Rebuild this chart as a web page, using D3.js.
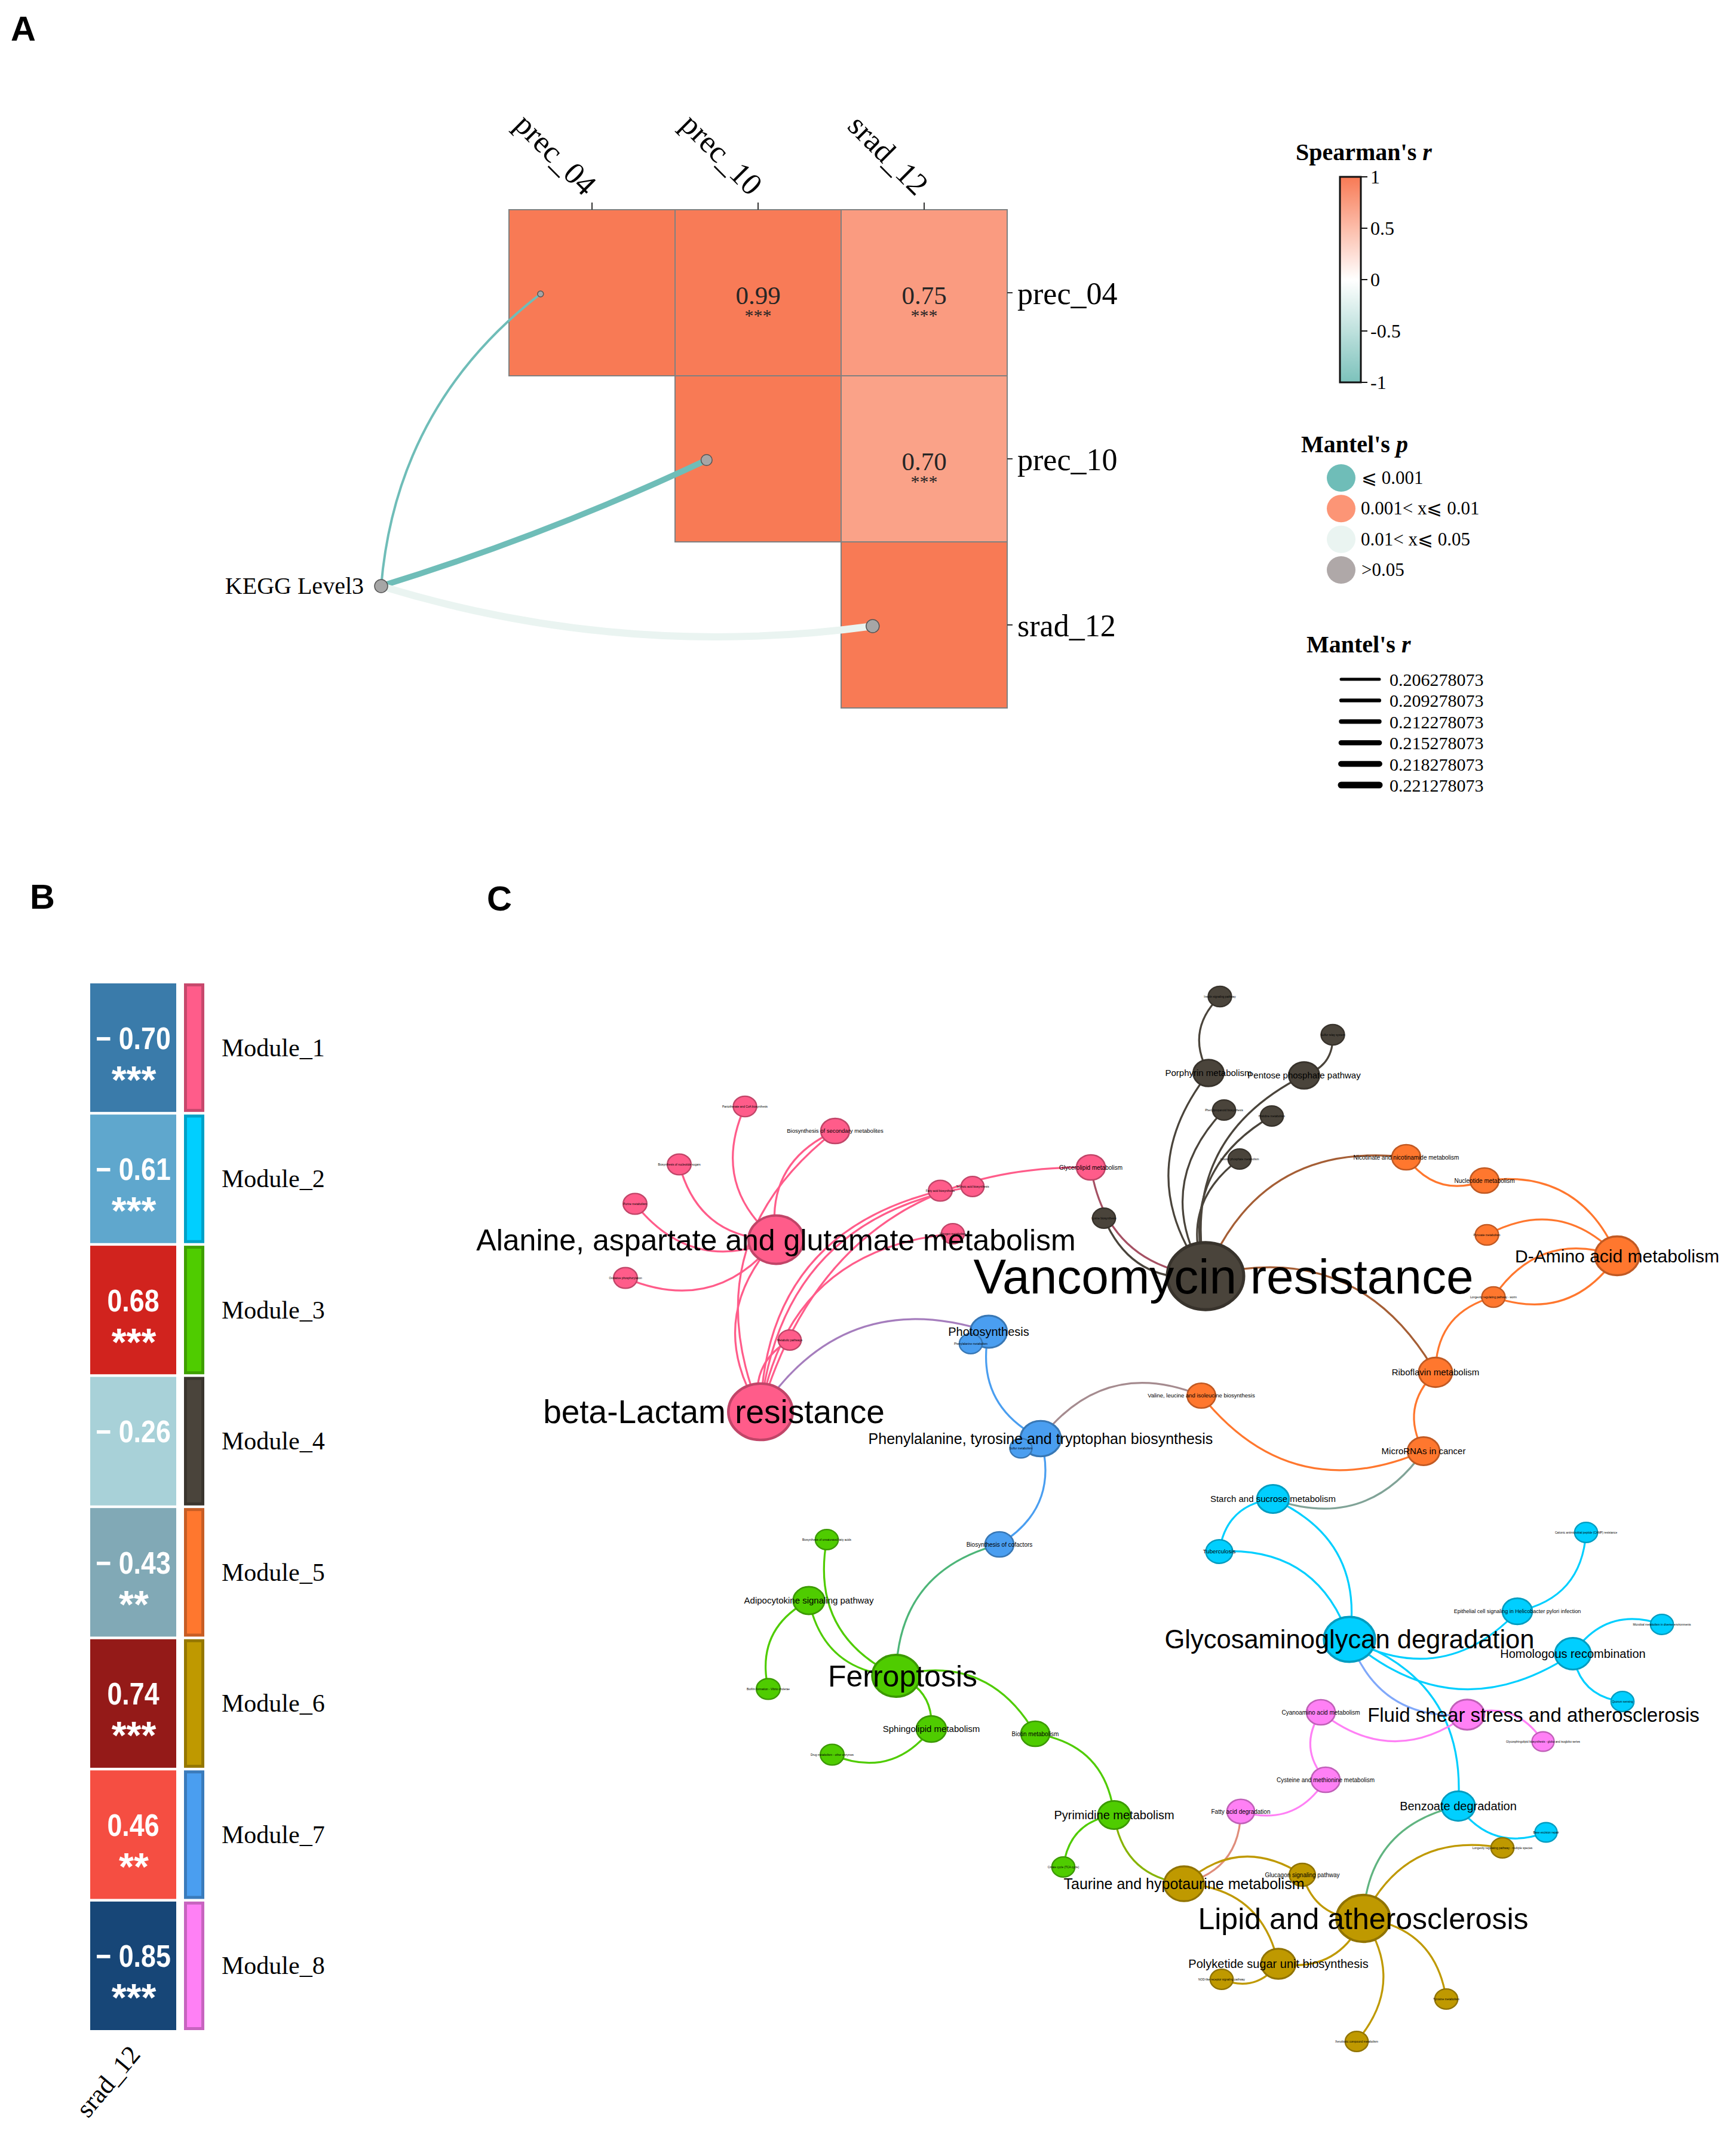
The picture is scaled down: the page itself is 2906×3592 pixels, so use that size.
<!DOCTYPE html>
<html>
<head>
<meta charset="utf-8">
<script src="https://cdn.jsdelivr.net/npm/d3@7"></script>
<style>
  body { margin: 0; background: #fff; }
</style>
</head>
<body>
<svg id="fig"></svg>
<script>
// ---------- Panel A: environmental correlations + Mantel links ----------
const envVars = ["prec_04", "prec_10", "srad_12"];
const spearman = [
  [1.00, 0.99, 0.75],
  [0.99, 1.00, 0.70],
  [0.75, 0.70, 1.00]
];
const spearmanStars = [
  ["", "***", "***"],
  ["", "", "***"],
  ["", "", ""]
];
const mantelSpec = "KEGG Level3";
const mantelR = [0.206278073, 0.217, 0.221278073];
const mantelP = [0.0004, 0.0006, 0.03];
const pBreaks = [0.001, 0.01, 0.05];
const pLabels = ["\u2A7D 0.001", "0.001< x\u2A7D 0.01", "0.01< x\u2A7D 0.05", ">0.05"];
const rBreaks = [0.206278073, 0.209278073, 0.212278073, 0.215278073, 0.218278073, 0.221278073];
const rBreakLabels = ["0.206278073", "0.209278073", "0.212278073", "0.215278073", "0.218278073", "0.221278073"];
const colorbarTicks = [1, 0.5, 0, -0.5, -1];
const colorbarTickLabels = ["1", "0.5", "0", "-0.5", "-1"];

// ---------- Panel B: module ~ srad_12 ----------
const modules = ["Module_1", "Module_2", "Module_3", "Module_4", "Module_5", "Module_6", "Module_7", "Module_8"];
const moduleR = [-0.70, -0.61, 0.68, -0.26, -0.43, 0.74, 0.46, -0.85];
const moduleStars = ["***", "***", "***", "", "**", "***", "**", "***"];
const bVar = "srad_12";

// ---------- Panel C: pathway network (exported layout units) ----------
// id, label, module, layoutX, layoutY, weight
const nodeTable = [
  ["alan", "Alanine, aspartate and glutamate metabolism", 1, 599, 475, 7.2],
  ["beta", "beta-Lactam resistance", 1, 573, 763, 8.4],
  ["pant", "Pantothenate and CoA biosynthesis", 1, 547, 252, 3.05],
  ["bsec", "Biosynthesis of secondary metabolites", 1, 698, 293, 3.75],
  ["nucs", "Biosynthesis of nucleotide sugars", 1, 437, 349, 3.1],
  ["puri", "Purine metabolism", 1, 363, 415, 3.1],
  ["oxph", "Oxidative phosphorylation", 1, 347, 539, 3.1],
  ["metp", "Metabolic pathways", 1, 622, 643, 3.0],
  ["fab",  "Fatty acid biosynthesis", 1, 874, 393, 3.1],
  ["teic", "Teichoic acid biosynthesis", 1, 928, 386, 3.0],
  ["glyl", "Glycerolipid metabolism", 1, 1126, 354, 3.75],
  ["nitr", "Nitrogen metabolism", 1, 895, 465, 3.0],
  ["vanc", "Vancomycin resistance", 4, 1318, 536, 10],
  ["porp", "Porphyrin metabolism", 4, 1323, 196, 4.0],
  ["pent", "Pentose phosphate pathway", 4, 1483, 200, 4.0],
  ["insu", "Insulin signaling pathway", 4, 1342, 68, 3.05],
  ["srel", "Sulfur relay system", 4, 1531, 132, 3.05],
  ["phpr", "Phenylpropanoid biosynthesis", 4, 1349, 258, 3.0],
  ["hist", "Histidine metabolism", 4, 1429, 268, 3.0],
  ["inos", "Inositol phosphate metabolism", 4, 1375, 340, 3.0],
  ["lysb", "Lysine biosynthesis", 4, 1148, 439, 3.0],
  ["dami", "D-Amino acid metabolism", 5, 2007, 502, 5.8],
  ["nico", "Nicotinate and nicotinamide metabolism", 5, 1654, 337, 3.75],
  ["nucl", "Nucleotide metabolism", 5, 1785, 376, 3.75],
  ["pyru", "Pyruvate metabolism", 5, 1789, 467, 3.05],
  ["lonw", "Longevity regulating pathway - worm", 5, 1800, 571, 3.05],
  ["ribo", "Riboflavin metabolism", 5, 1703, 697, 4.4],
  ["mirn", "MicroRNAs in cancer", 5, 1683, 829, 4.2],
  ["vali", "Valine, leucine and isoleucine biosynthesis", 5, 1311, 736, 3.7],
  ["phot", "Photosynthesis", 7, 955, 629, 4.8],
  ["phem", "Phenylalanine metabolism", 7, 925, 649, 3.0],
  ["ptt",  "Phenylalanine, tyrosine and tryptophan biosynthesis", 7, 1042, 808, 5.3],
  ["sulm", "Sulfur metabolism", 7, 1009, 824, 2.9],
  ["cofa", "Biosynthesis of cofactors", 7, 973, 985, 3.75],
  ["ferr", "Ferroptosis", 3, 800, 1205, 6.25],
  ["adip", "Adipocytokine signaling pathway", 3, 654, 1079, 4.1],
  ["bufa", "Biosynthesis of unsaturated fatty acids", 3, 684, 977, 3.0],
  ["biof", "Biofilm formation - Vibrio cholerae", 3, 586, 1227, 3.1],
  ["sphi", "Sphingolipid metabolism", 3, 859, 1294, 3.9],
  ["drug", "Drug metabolism - other enzymes", 3, 693, 1337, 3.1],
  ["biot", "Biotin metabolism", 3, 1033, 1302, 3.75],
  ["pyri", "Pyrimidine metabolism", 3, 1165, 1438, 4.2],
  ["tca",  "Citrate cycle (TCA cycle)", 3, 1080, 1525, 3.0],
  ["glyc", "Glycosaminoglycan degradation", 2, 1559, 1144, 6.7],
  ["star", "Starch and sucrose metabolism", 2, 1431, 909, 4.2],
  ["tube", "Tuberculosis", 2, 1341, 997, 3.5],
  ["camp", "Cationic antimicrobial peptide (CAMP) resistance", 2, 1955, 965, 3.0],
  ["epit", "Epithelial cell signaling in Helicobacter pylori infection", 2, 1840, 1097, 3.9],
  ["micr", "Microbial metabolism in diverse environments", 2, 2082, 1119, 3.0],
  ["homo", "Homologous recombination", 2, 1933, 1168, 4.7],
  ["quor", "Quorum sensing", 2, 2016, 1248, 3.0],
  ["benz", "Benzoate degradation", 2, 1741, 1423, 4.4],
  ["bexr", "Base excision repair", 2, 1888, 1467, 2.9],
  ["flui", "Fluid shear stress and atherosclerosis", 8, 1756, 1270, 4.5],
  ["cyan", "Cyanoamino acid metabolism", 8, 1511, 1266, 3.75],
  ["gsph", "Glycosphingolipid biosynthesis - globo and isoglobo series", 8, 1883, 1315, 2.9],
  ["cyst", "Cysteine and methionine metabolism", 8, 1519, 1379, 3.75],
  ["fadg", "Fatty acid degradation", 8, 1377, 1432, 3.6],
  ["lipi", "Lipid and atherosclerosis", 6, 1582, 1611, 7.0],
  ["taur", "Taurine and hypotaurine metabolism", 6, 1282, 1553, 5.2],
  ["gluc", "Glucagon signaling pathway", 6, 1480, 1538, 3.4],
  ["poly", "Polyketide sugar unit biosynthesis", 6, 1440, 1687, 4.5],
  ["nod",  "NOD-like receptor signaling pathway", 6, 1345, 1713, 3.0],
  ["lonm", "Longevity regulating pathway - multiple species", 6, 1815, 1493, 3.0],
  ["tyro", "Tyrosine metabolism", 6, 1721, 1746, 3.0],
  ["xeno", "Xenobiotic compound metabolism", 6, 1571, 1817, 3.0]
];

// source -> target (arc bends to the left of the travel direction)
const edgeList = [
  ["alan","pant"],["alan","bsec"],["alan","nucs"],["alan","puri"],["alan","oxph"],
  ["beta","alan"],["beta","bsec"],["beta","fab"],["beta","teic"],["beta","glyl"],
  ["beta","nitr"],["beta","metp"],["vanc","glyl"],["vanc","lysb"],
  ["vanc","porp"],["vanc","phpr"],["vanc","hist"],["vanc","inos"],["vanc","pent"],
  ["porp","insu"],["srel","pent"],["vanc","nico"],["vanc","ribo"],
  ["nucl","nico"],["nucl","dami"],["pyru","dami"],["dami","lonw"],["lonw","dami"],
  ["ribo","lonw"],["mirn","ribo"],["mirn","vali"],["ptt","vali"],["mirn","star"],
  ["ptt","phot"],["beta","phot"],["phot","phem"],["ptt","sulm"],["ptt","cofa"],["ferr","cofa"],
  ["ferr","adip"],["ferr","bufa"],["biof","adip"],["ferr","sphi"],["sphi","drug"],
  ["ferr","biot"],["biot","pyri"],["tca","pyri"],["taur","pyri"],
  ["star","glyc"],["tube","star"],["tube","glyc"],["epit","glyc"],["camp","epit"],
  ["homo","glyc"],["homo","micr"],["quor","homo"],["glyc","benz"],["bexr","benz"],
  ["flui","glyc"],["lipi","benz"],
  ["flui","cyan"],["flui","gsph"],["cyst","cyan"],["cyst","fadg"],["fadg","taur"],
  ["taur","gluc"],["lipi","gluc"],["taur","poly"],["lipi","poly"],["poly","nod"],
  ["lipi","lonm"],["lipi","tyro"],["lipi","xeno"]
];

// =================== drawing ===================
const W = 2906, H = 3592;
const serif = "'Liberation Serif','Times New Roman',serif";
const sans = "'Liberation Sans',Arial,Helvetica,sans-serif";

const svg = d3.select("#fig")
  .attr("width", W).attr("height", H)
  .attr("viewBox", `0 0 ${W} ${H}`);
svg.append("rect").attr("width", W).attr("height", H).attr("fill", "#fff");

// panel tags
const tags = [["A", 18, 68], ["B", 50, 1521], ["C", 815, 1524]];
svg.selectAll("text.tag").data(tags).join("text")
  .attr("class", "tag")
  .attr("x", d => d[1]).attr("y", d => d[2])
  .attr("font-family", sans).attr("font-weight", 900).attr("font-size", 58)
  .text(d => d[0]);

// ---------------- Panel A ----------------
const gA = svg.append("g");
const xA = d3.scaleBand().domain(envVars).range([852, 1686]);
const yA = d3.scaleBand().domain(envVars).range([351, 1185]);
const bw = xA.bandwidth();
const fillR = d3.scaleLinear().domain([-1, 0, 1]).range(["#7CC2BB", "#ffffff", "#F87A55"]);

const cells = [];
envVars.forEach((row, i) => envVars.forEach((col, j) => {
  if (j >= i) cells.push({ row, col, r: spearman[i][j], star: spearmanStars[i][j], diag: i === j });
}));

gA.selectAll("rect.cell").data(cells).join("rect")
  .attr("x", d => xA(d.col)).attr("y", d => yA(d.row))
  .attr("width", bw).attr("height", bw)
  .attr("fill", d => fillR(d.r))
  .attr("stroke", "#808080").attr("stroke-width", 2);

const offDiag = cells.filter(d => !d.diag);
gA.selectAll("text.rval").data(offDiag).join("text")
  .attr("x", d => xA(d.col) + bw / 2).attr("y", d => yA(d.row) + bw / 2 + 19)
  .attr("text-anchor", "middle").attr("font-family", serif).attr("font-size", 43)
  .attr("fill", "#262626")
  .text(d => d3.format(".2f")(d.r));
gA.selectAll("text.rstar").data(offDiag).join("text")
  .attr("x", d => xA(d.col) + bw / 2).attr("y", d => yA(d.row) + bw / 2 + 48)
  .attr("text-anchor", "middle").attr("font-family", serif).attr("font-size", 30)
  .attr("fill", "#262626")
  .text(d => d.star);

// top axis
const y0A = yA.range()[0], x1A = xA.range()[1];
gA.selectAll("line.tt").data(envVars).join("line")
  .attr("x1", d => xA(d) + bw / 2).attr("x2", d => xA(d) + bw / 2)
  .attr("y1", y0A - 12).attr("y2", y0A)
  .attr("stroke", "#333").attr("stroke-width", 2);
gA.selectAll("text.tl").data(envVars).join("text")
  .attr("transform", d => `translate(${xA(d) + bw / 2 - 14},${y0A - 21}) rotate(45)`)
  .attr("text-anchor", "end").attr("font-family", serif).attr("font-size", 52)
  .text(d => d);
// right axis
gA.selectAll("line.rt").data(envVars).join("line")
  .attr("x1", x1A).attr("x2", x1A + 9)
  .attr("y1", d => yA(d) + bw / 2).attr("y2", d => yA(d) + bw / 2)
  .attr("stroke", "#333").attr("stroke-width", 2);
gA.selectAll("text.rl").data(envVars).join("text")
  .attr("x", x1A + 17).attr("y", d => yA(d) + bw / 2 + 19)
  .attr("font-family", serif).attr("font-size", 52)
  .text(d => d);

// Mantel links
const pColor = d3.scaleThreshold().domain(pBreaks)
  .range(["#6FBDB8", "#FC9576", "#EAF4F1", "#AFA8A8"]);
const rWidth = d3.scaleLinear().domain(d3.extent(rBreaks)).range([4, 12]);
const rDot = d3.scaleLinear().domain(d3.extent(rBreaks)).range([5, 11]);
const linkBend = [0.22, -0.035, -0.11];
const spec = { x: 638, y: 981 };
const links = envVars.map((v, i) => ({
  v, r: mantelR[i], p: mantelP[i], bend: linkBend[i],
  x: xA(v) + bw * 0.19, y: yA(v) + bw / 2 + 2
}));
function arc(sx, sy, tx, ty, k) {
  const mx = (sx + tx) / 2, my = (sy + ty) / 2, dx = tx - sx, dy = ty - sy;
  return `M${sx},${sy}Q${mx + k * dy},${my - k * dx} ${tx},${ty}`;
}
gA.selectAll("path.link").data(links).join("path")
  .attr("d", d => arc(spec.x, spec.y, d.x, d.y, d.bend))
  .attr("fill", "none").attr("stroke", d => pColor(d.p))
  .attr("stroke-width", d => rWidth(d.r));
gA.selectAll("circle.end").data(links).join("circle")
  .attr("cx", d => d.x).attr("cy", d => d.y).attr("r", d => rDot(d.r))
  .attr("fill", "#A6A6A6").attr("stroke", "#555").attr("stroke-width", 1.5);
gA.append("circle").attr("cx", spec.x).attr("cy", spec.y).attr("r", 11)
  .attr("fill", "#A6A6A6").attr("stroke", "#555").attr("stroke-width", 1.5);
gA.append("text").attr("x", spec.x - 29).attr("y", spec.y + 13)
  .attr("text-anchor", "end").attr("font-family", serif).attr("font-size", 40)
  .text(mantelSpec);

// Legends
const gL = svg.append("g").attr("font-family", serif);
function legendTitle(x, y, main, ital) {
  const t = gL.append("text").attr("x", x).attr("y", y)
    .attr("font-weight", "bold").attr("font-size", 40);
  t.append("tspan").text(main);
  t.append("tspan").attr("font-style", "italic").text(ital);
}
legendTitle(2169, 268, "Spearman's ", "r");
const defs = svg.append("defs");
const grad = defs.append("linearGradient").attr("id", "cbar")
  .attr("x1", 0).attr("y1", 0).attr("x2", 0).attr("y2", 1);
d3.range(0, 1.0001, 0.05).forEach(t => {
  grad.append("stop").attr("offset", t).attr("stop-color", fillR(1 - 2 * t));
});
const cbY = d3.scaleLinear().domain([1, -1]).range([296, 640]);
gL.append("rect").attr("x", 2243).attr("y", 296).attr("width", 35).attr("height", 344)
  .attr("fill", "url(#cbar)").attr("stroke", "#111").attr("stroke-width", 3);
gL.selectAll("line.cbt").data(colorbarTicks).join("line")
  .attr("x1", 2278).attr("x2", 2289)
  .attr("y1", d => cbY(d)).attr("y2", d => cbY(d))
  .attr("stroke", "#111").attr("stroke-width", 2);
gL.selectAll("text.cbl").data(colorbarTicks).join("text")
  .attr("x", 2294).attr("y", d => cbY(d) + 11)
  .attr("font-size", 32)
  .text((d, i) => colorbarTickLabels[i]);

legendTitle(2178, 757, "Mantel's ", "p");
const pLegY = d3.scalePoint().domain(pLabels).range([800, 954]);
const pLegVal = [0.0005, 0.005, 0.03, 0.5];
gL.selectAll("ellipse.pk").data(pLabels).join("ellipse")
  .attr("cx", 2245).attr("cy", d => pLegY(d)).attr("rx", 24).attr("ry", 23)
  .attr("fill", (d, i) => pColor(pLegVal[i]));
gL.selectAll("text.pl").data(pLabels).join("text")
  .attr("x", (d, i) => i === 0 || i === 3 ? 2279 : 2278).attr("y", d => pLegY(d) + 10)
  .attr("font-size", 31)
  .text(d => d);

legendTitle(2187, 1092, "Mantel's ", "r");
const rLegY = d3.scalePoint().domain(rBreaks).range([1137, 1314]);
gL.selectAll("line.rk").data(rBreaks).join("line")
  .attr("x1", 2245).attr("x2", 2309)
  .attr("y1", d => rLegY(d)).attr("y2", d => rLegY(d))
  .attr("stroke", "#000").attr("stroke-linecap", "round")
  .attr("stroke-width", d => rWidth(d) * 0.75 + 2);
gL.selectAll("text.rkl").data(rBreaks).join("text")
  .attr("x", 2326).attr("y", d => rLegY(d) + 11)
  .attr("font-size", 30)
  .text((d, i) => rBreakLabels[i]);

// ---------------- Panel B ----------------
const gB = svg.append("g");
const yB = d3.scaleBand().domain(modules).range([1646, 3398]).paddingInner(0.02);
const bh = yB.bandwidth();
const fillB = d3.scaleLinear()
  .domain([-0.85, -0.70, -0.61, -0.43, -0.26, 0.46, 0.68, 0.74])
  .range(["#174677", "#3A7BAA", "#5FA7CD", "#81A9B6", "#A8D1D8", "#F54E42", "#D1231E", "#941A18"]);
const moduleColor = d3.scaleOrdinal().domain([1, 2, 3, 4, 5, 6, 7, 8])
  .range(["#FF5C8A", "#00CFFF", "#4FCC00", "#4A443B", "#FF772E", "#BF9900", "#4A9EF0", "#FF80F5"]);

const bRows = modules.map((m, i) => ({ m, r: moduleR[i], s: moduleStars[i], k: i + 1 }));
gB.selectAll("rect.bc").data(bRows).join("rect")
  .attr("x", 151).attr("y", d => yB(d.m)).attr("width", 144).attr("height", bh)
  .attr("fill", d => fillB(d.r));
const fmtB = v => (v < 0 ? "\u2212 " : "") + d3.format(".2f")(Math.abs(v));
gB.selectAll("text.bv").data(bRows).join("text")
  .attr("transform", d => `translate(223,${yB(d.m) + bh / 2 + 2}) scale(0.86,1)`)
  .attr("text-anchor", "middle").attr("font-family", sans).attr("font-weight", "bold")
  .attr("font-size", 52).attr("fill", "#fff")
  .text(d => fmtB(d.r));
gB.selectAll("text.bs").data(bRows).join("text")
  .attr("x", 224).attr("y", d => yB(d.m) + bh / 2 + 76)
  .attr("text-anchor", "middle").attr("font-family", sans).attr("font-weight", "bold")
  .attr("font-size", 64).attr("fill", "#fff")
  .text(d => d.s);
gB.selectAll("rect.mb").data(bRows).join("rect")
  .attr("x", 310.5).attr("y", d => yB(d.m) + 2.5).attr("width", 29).attr("height", bh - 5)
  .attr("fill", d => moduleColor(d.k))
  .attr("stroke", d => d3.color(moduleColor(d.k)).darker(0.7))
  .attr("stroke-width", 5);
gB.selectAll("text.ml").data(bRows).join("text")
  .attr("x", 371).attr("y", d => yB(d.m) + bh / 2 + 14)
  .attr("font-family", serif).attr("font-size", 42)
  .text(d => d.m);
gB.append("text")
  .attr("transform", "translate(237,3440) rotate(-50)")
  .attr("text-anchor", "end").attr("font-family", serif).attr("font-size", 44)
  .text(bVar);

// ---------------- Panel C ----------------
const gC = svg.append("g");
const cx = d3.scaleLinear().domain([0, 2200]).range([700, 2900]);
const cy = d3.scaleLinear().domain([0, 2000]).range([1600, 3600]);
const rxScale = d3.scaleLinear().domain([0, 10]).range([0, 64]);
const aspect = 1.14;

const labelFont = {
  vanc: 82, beta: 55, alan: 50, lipi: 50, ferr: 50, glyc: 43.5, flui: 33, dami: 30,
  ptt: 25, taur: 25, poly: 20, pyri: 20, benz: 20, homo: 20, phot: 20,
  sphi: 15, adip: 15, star: 15, ribo: 15, mirn: 15, porp: 15, pent: 15,
  epit: 9, bsec: 9.5, glyl: 10, nico: 10, nucl: 10, vali: 9.5, cofa: 10, biot: 10,
  cyan: 10, cyst: 10, fadg: 10, gluc: 10, tube: 9.7
};
const labelShift = { vanc: 30, beta: -78, flui: 111, ferr: 11 };

const nodes = nodeTable.map(([id, label, mod, lx, ly, w]) => ({
  id, label, mod, x: cx(lx), y: cy(ly), rx: rxScale(w)
}));
const byId = new Map(nodes.map(n => [n.id, n]));
const edges = edgeList.map(([s, t]) => ({ s: byId.get(s), t: byId.get(t) }));

const edgeColor = e => e.s.mod === e.t.mod
  ? moduleColor(e.s.mod)
  : d3.interpolateRgb(moduleColor(e.s.mod), moduleColor(e.t.mod))(0.5);

gC.selectAll("path.edge").data(edges).join("path")
  .attr("d", e => arc(e.s.x, e.s.y, e.t.x, e.t.y, 0.38))
  .attr("fill", "none").attr("stroke", edgeColor).attr("stroke-width", 3.2);

const drawOrder = nodes.slice().sort((a, b) => b.rx - a.rx);
gC.selectAll("ellipse.node").data(drawOrder).join("ellipse")
  .attr("cx", d => d.x).attr("cy", d => d.y)
  .attr("rx", d => d.rx).attr("ry", d => d.rx / aspect)
  .attr("fill", d => moduleColor(d.mod))
  .attr("stroke", d => d3.color(moduleColor(d.mod)).darker(0.8))
  .attr("stroke-width", d => 1.2 + d.rx * 0.06);

gC.selectAll("text.nl").data(nodes).join("text")
  .attr("x", d => d.x + (labelShift[d.id] || 0))
  .attr("y", d => d.y)
  .attr("dy", "0.35em")
  .attr("text-anchor", "middle").attr("font-family", sans)
  .attr("font-size", d => labelFont[d.id] || 4.8)
  .attr("fill", "#000")
  .text(d => d.label);
</script>
</body>
</html>
